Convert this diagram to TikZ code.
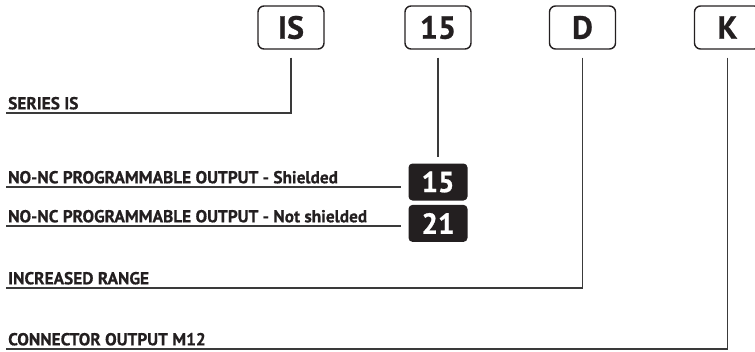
\documentclass[tikz,border=0pt]{standalone}
\usepackage{fontspec}
\setmainfont{PT Sans}
\newfontfamily\labelfont[FakeBold=0.6]{PT Sans}
\newfontfamily\codefont[FakeBold=0.8]{PT Sans}
\usetikzlibrary{positioning}
\definecolor{ink}{HTML}{231F20}
\definecolor{wire}{HTML}{3A3A3A}

\begin{document}
\begin{tikzpicture}[
    x = 1pt, y = -1pt,
    codebox/.style = {draw = ink, line width = 1.4pt, rounded corners = 6pt,
      minimum width = 66pt, minimum height = 43pt, inner sep = 0pt, text = ink,
      font = \codefont\bfseries\fontsize{32}{32}\selectfont},
    blkbox/.style = {fill = ink, rounded corners = 4pt, minimum width = 59pt,
      minimum height = 37pt, inner sep = 0pt, text = white,
      font = \codefont\bfseries\fontsize{29}{29}\selectfont},
    lbl/.style = {anchor = south west, inner xsep = 2pt, inner ysep = 3.5pt,
      text depth = 0pt, text = ink,
      font = \labelfont\bfseries\fontsize{17.3}{17.3}\selectfont},
    lead/.style = {draw = wire, line width = 1.1pt}
  ]
  \useasboundingbox (0,0) rectangle (755,351);
  % order code boxes
  \node[codebox] (IS)  at (291,27.5)   {IS};
  \node[codebox] (C15) at (438,27.5)   {15};
  \node[codebox] (D)   at (582.5,27.5) {D};
  \node[codebox] (K)   at (727.5,27.5) {K};
  % option boxes
  \node[blkbox] (B15) at (438,182) {15};
  \node[blkbox, below = 4pt of B15] (B21) {21};
  % descriptions
  \node[lbl] (Series)   at (6,113) {SERIES IS};
  \node[lbl] (Shield)   at (6,187) {NO-NC PROGRAMMABLE OUTPUT - Shielded};
  \node[lbl] (NoShield) at (6,226) {NO-NC PROGRAMMABLE OUTPUT - Not shielded};
  \node[lbl] (Range)    at (6,288) {INCREASED RANGE};
  \node[lbl] (Conn)     at (6,349) {CONNECTOR OUTPUT M12};
  % leaders
  \path ([xshift=-7pt]B15.west) coordinate (e15)
        ([xshift=-7pt]B21.west) coordinate (e21);
  \draw[lead] ([yshift=-8pt]IS.south) |- (Series.south west);
  \draw[lead] ([yshift=-8pt]C15.south) -- ([yshift=6pt]B15.north);
  \draw[lead] (Shield.south west) -- (Shield.south west -| e15);
  \draw[lead] (NoShield.south west) -- (NoShield.south west -| e21);
  \draw[lead] ([yshift=-8pt]D.south) |- (Range.south west);
  \draw[lead] ([yshift=-8pt]K.south) |- (Conn.south west);
\end{tikzpicture}
\end{document}
